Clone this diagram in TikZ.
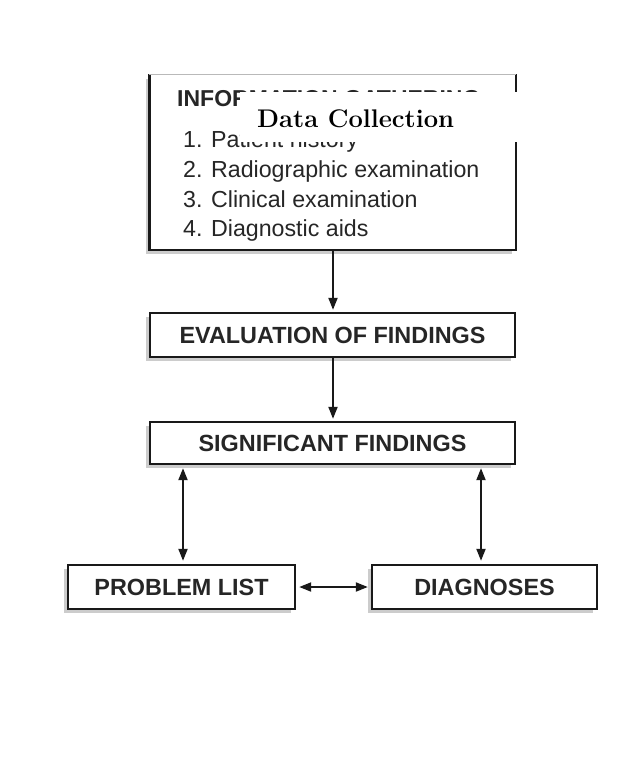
\documentclass[tikz,border=0pt]{standalone}
\usepackage{fontspec}
\newfontfamily\hv{Liberation Sans}
\usetikzlibrary{arrows.meta,shadows}
\begin{document}
\begin{tikzpicture}[x=1pt,y=-1pt,
  shadowed/.style={drop shadow={shadow xshift=-4pt,shadow yshift=-4pt,fill=gray!40,opacity=1}},
  box/.style={draw=black!90,line width=2.4pt,fill=white,inner sep=0pt,shadowed,
    font=\hv\bfseries\fontsize{23.4}{28}\selectfont,text=black!85},
  topbox/.style={draw=none,fill=white,inner sep=0pt,shadowed},
  border/.style={draw=black!90,line width=2.4pt,line cap=rect},
  topedge/.style={draw=gray!55,line width=1.2pt},
  item/.style={anchor=base west,inner sep=0pt,font=\hv\fontsize{23.2}{28}\selectfont,text=black!85},
  head/.style={anchor=base west,inner sep=0pt,font=\hv\bfseries\fontsize{23}{28}\selectfont,text=black!85},
  cover/.style={fill=white,draw=none,inner sep=0pt,anchor=north west},
  dclabel/.style={anchor=base west,inner sep=0pt,font=\bfseries\fontsize{25.5}{30}\selectfont,text=black},
  arr/.style={draw=black!90,line width=2pt,-{Triangle[length=12pt,width=9pt]},shorten >=2pt},
  dbl/.style={draw=black!90,line width=2pt,{Triangle[length=12pt,width=9pt]}-{Triangle[length=12pt,width=9pt]},shorten >=3pt,shorten <=3pt}
]
\useasboundingbox (0,0) rectangle (638,778);
\fill[white] (0,0) rectangle (638,778);

% top box
\node[topbox,minimum width=366pt,minimum height=175pt] (info) at (332.5,162.5) {};
\draw[border] (info.north west) -- (info.south west) -- (info.south east) -- (info.north east);
\draw[topedge] (info.north west) -- (info.north east);
\node[head] (hd) at (177,107) {INFORMATION GATHERING};
\node[item] (i1) at (183,148) {1. Patient history};
\node[item] (i2) at (183,177) {2. Radiographic examination};
\node[item] (i3) at (183,207) {3. Clinical examination};
\node[item] (i4) at (183,236) {4. Diagnostic aids};
\node[cover,minimum width=279pt,minimum height=50pt] (dcbg) at (240,92) {};
\node[dclabel] (dc) at (257,128) {Data Collection};

% other boxes
\node[box,minimum width=365pt,minimum height=44pt] (eval) at (332.5,335) {EVALUATION OF FINDINGS};
\node[box,minimum width=365pt,minimum height=42pt] (sig) at (332.5,443) {SIGNIFICANT FINDINGS};
\node[box,minimum width=227pt,minimum height=44pt] (prob) at (181.5,587) {PROBLEM LIST};
\node[box,minimum width=225pt,minimum height=44pt] (diag) at (484.5,587) {DIAGNOSES};

% connectors
\draw[arr] ([xshift=0.5pt]info.south) -- ([xshift=0.5pt]eval.north);
\draw[arr] ([xshift=0.5pt]eval.south) -- ([xshift=0.5pt]sig.north);
\draw[dbl] ([xshift=-149.5pt]sig.south) -- ([xshift=1.5pt]prob.north);
\draw[dbl] ([xshift=148.5pt]sig.south) -- ([xshift=-3.5pt]diag.north);
\draw[dbl] (prob.east) -- (diag.west);
\end{tikzpicture}
\end{document}
